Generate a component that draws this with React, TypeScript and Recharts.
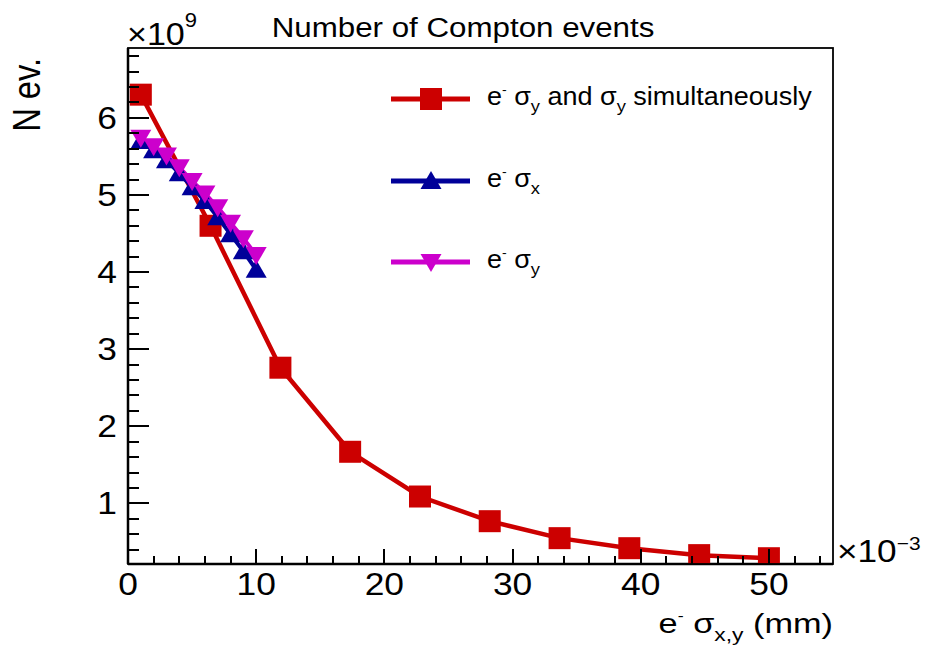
import { LineChart, Line, XAxis, YAxis } from "recharts";

// red: e- sigma_x and sigma_y scanned together
const X_BOTH = [1, 6.44, 11.89, 17.33, 22.78, 28.22, 33.67, 39.11, 44.56, 50];
const N_BOTH = [6.3, 4.6, 2.76, 1.67, 1.09, 0.77, 0.55, 0.42, 0.33, 0.29];

// blue / magenta: only one of the two
const X_SINGLE = [1, 2, 3, 4, 5, 6, 7, 8, 9, 10];
const N_SIGX = [5.7, 5.58, 5.45, 5.28, 5.1, 4.92, 4.71, 4.49, 4.27, 4.03];
const N_SIGY = [5.74, 5.63, 5.51, 5.36, 5.18, 5.02, 4.84, 4.64, 4.44, 4.22];

const X_TICKS = [0, 2, 4, 6, 8, 10, 12, 14, 16, 18, 20, 22, 24, 26, 28, 30, 32, 34, 36, 38, 40, 42, 44, 46, 48, 50, 52, 54];
const Y_TICKS = [
  0.4, 0.6, 0.8, 1, 1.2, 1.4, 1.6, 1.8, 2, 2.2, 2.4, 2.6, 2.8, 3, 3.2, 3.4, 3.6, 3.8,
  4, 4.2, 4.4, 4.6, 4.8, 5, 5.2, 5.4, 5.6, 5.8, 6, 6.2, 6.4, 6.6, 6.8,
];

const W = 926;
const H = 650;
// plot frame: x 128..833, y 48..564 (axes take 1px each)
const M = { top: 48, right: 93, bottom: 85, left: 127 };
const PL = 128;
const PR = 833;
const PT = 48;
const PB = 564;
const FONT = '"Liberation Sans", Arial, Helvetica, sans-serif';

const RED = "#cc0000";
const BLUE = "#000099";
const MAGENTA = "#cc00cc";

const both = X_BOTH.map((x, i) => ({ x, y: N_BOTH[i] }));
const sigx = X_SINGLE.map((x, i) => ({ x, y: N_SIGX[i] }));
const sigy = X_SINGLE.map((x, i) => ({ x, y: N_SIGY[i] }));

function isMajor(v: number) {
  return Math.abs(v - Math.round(v)) < 1e-6;
}

function XTick(props: any) {
  const { x, y, payload } = props;
  const v = payload.value;
  const major = v % 10 === 0;
  return (
    <g>
      <line
        x1={x}
        y1={y}
        x2={x}
        y2={y - (major ? 15.5 : 7.75)}
        stroke="#000"
        strokeWidth={2}
        shapeRendering="crispEdges"
      />
      {major && (
        <text
          transform={`translate(${x},${y + 31}) scale(1.14,1)`}
          textAnchor="middle"
          fontSize={31}
          fontFamily={FONT}
          fill="#000"
        >
          {v}
        </text>
      )}
    </g>
  );
}

function YTick(props: any) {
  const { x, y, payload } = props;
  const v = payload.value;
  const major = isMajor(v);
  return (
    <g>
      <line
        x1={x}
        y1={y}
        x2={x + (major ? 21 : 10.5)}
        y2={y}
        stroke="#000"
        strokeWidth={2}
        shapeRendering="crispEdges"
      />
      {major && (
        <text
          transform={`translate(${x - 11},${y + 11}) scale(1.14,1)`}
          textAnchor="end"
          fontSize={31}
          fontFamily={FONT}
          fill="#000"
        >
          {Math.round(v)}
        </text>
      )}
    </g>
  );
}

function Square({ cx, cy, fill, s = 22 }: any) {
  return <rect x={cx - s / 2} y={cy - s / 2} width={s} height={s} fill={fill} />;
}

function TriUp({ cx, cy, fill }: any) {
  return <polygon points={`${cx},${cy - 10} ${cx - 10.5},${cy + 8} ${cx + 10.5},${cy + 8}`} fill={fill} />;
}

function TriDown({ cx, cy, fill }: any) {
  return <polygon points={`${cx - 10.5},${cy - 8} ${cx + 10.5},${cy - 8} ${cx},${cy + 10}`} fill={fill} />;
}

function LegendRow({ y, color, marker, children }: any) {
  return (
    <g>
      <line x1={391} y1={y} x2={470} y2={y} stroke={color} strokeWidth={5} />
      {marker === "square" && <Square cx={431} cy={y} fill={color} />}
      {marker === "up" && <TriUp cx={431} cy={y} fill={color} />}
      {marker === "down" && <TriDown cx={431} cy={y} fill={color} />}
      <text
        transform={`translate(487,${y + 6}) scale(1.08,1)`}
        fontSize={25}
        fontFamily={FONT}
        fill="#000"
      >
        {children}
      </text>
    </g>
  );
}

function Overlay() {
  return (
    <svg width={W} height={H} style={{ position: "absolute", left: 0, top: 0, pointerEvents: "none" }}>
      <rect x={PL} y={PT} width={PR - PL} height={PB - PT} fill="none" stroke="#000" strokeWidth={1.8} />

      <text transform="translate(463,37) scale(1.16,1)" textAnchor="middle" fontSize={27} fontFamily={FONT}>
        Number of Compton events
      </text>

      <text transform="translate(127,45) scale(1.1,1)" fontSize={31} fontFamily={FONT}>
        ×10
        <tspan fontSize={20} dy={-18}>9</tspan>
      </text>

      <text transform="translate(837,562) scale(1.1,1)" fontSize={32} fontFamily={FONT}>
        ×10
        <tspan fontSize={19} dy={-12}>−3</tspan>
      </text>

      <text transform="translate(40,58) rotate(-90) scale(0.86,1)" textAnchor="end" fontSize={38} fontFamily={FONT}>
        N ev.
      </text>

      <text transform="translate(833,633) scale(1.27,1)" textAnchor="end" fontSize={27} fontFamily={FONT}>
        e
        <tspan fontSize={14} dy={-12}>-</tspan>
        <tspan dy={12}> σ</tspan>
        <tspan fontSize={18} dy={8}>x,y</tspan>
        <tspan dy={-8}> (mm)</tspan>
      </text>

      <LegendRow y={99} color={RED} marker="square">
        e<tspan fontSize={13} dy={-11}>-</tspan>
        <tspan dy={11}> σ</tspan>
        <tspan fontSize={17} dy={7}>y</tspan>
        <tspan dy={-7}> and σ</tspan>
        <tspan fontSize={17} dy={7}>y</tspan>
        <tspan dy={-7}> simultaneously</tspan>
      </LegendRow>
      <LegendRow y={181} color={BLUE} marker="up">
        e<tspan fontSize={13} dy={-11}>-</tspan>
        <tspan dy={11}> σ</tspan>
        <tspan fontSize={17} dy={7}>x</tspan>
      </LegendRow>
      <LegendRow y={262} color={MAGENTA} marker="down">
        e<tspan fontSize={13} dy={-11}>-</tspan>
        <tspan dy={11}> σ</tspan>
        <tspan fontSize={17} dy={7}>y</tspan>
      </LegendRow>
    </svg>
  );
}

export default function App() {
  return (
    <div style={{ position: "absolute", left: 0, top: 0, width: W, height: H, background: "#fff" }}>
      <LineChart width={W} height={H} margin={M} style={{ overflow: "visible" }}>
        <XAxis
          type="number"
          dataKey="x"
          domain={[0, 55]}
          allowDataOverflow
          ticks={X_TICKS}
          interval={0}
          tick={(p: any) => <XTick {...p} />}
          tickLine={false}
          tickSize={0}
          tickMargin={0}
          height={1}
          axisLine={{ stroke: "#000", strokeWidth: 2.5 }}
        />
        <YAxis
          type="number"
          domain={[0.215, 6.905]}
          allowDataOverflow
          ticks={Y_TICKS}
          interval={0}
          tick={(p: any) => <YTick {...p} />}
          tickLine={false}
          tickSize={0}
          tickMargin={0}
          width={1}
          axisLine={{ stroke: "#000", strokeWidth: 2.5 }}
        />
        <Line
          data={both}
          dataKey="y"
          type="linear"
          stroke={RED}
          strokeWidth={4.5}
          isAnimationActive={false}
          dot={(p: any) => <Square key={`b${p.index}`} cx={p.cx} cy={p.cy} fill={RED} />}
          activeDot={false}
        />
        <Line
          data={sigx}
          dataKey="y"
          type="linear"
          stroke={BLUE}
          strokeWidth={4}
          isAnimationActive={false}
          dot={(p: any) => <TriUp key={`x${p.index}`} cx={p.cx} cy={p.cy} fill={BLUE} />}
          activeDot={false}
        />
        <Line
          data={sigy}
          dataKey="y"
          type="linear"
          stroke={MAGENTA}
          strokeWidth={4}
          isAnimationActive={false}
          dot={(p: any) => <TriDown key={`y${p.index}`} cx={p.cx} cy={p.cy} fill={MAGENTA} />}
          activeDot={false}
        />
      </LineChart>
      <Overlay />
    </div>
  );
}
